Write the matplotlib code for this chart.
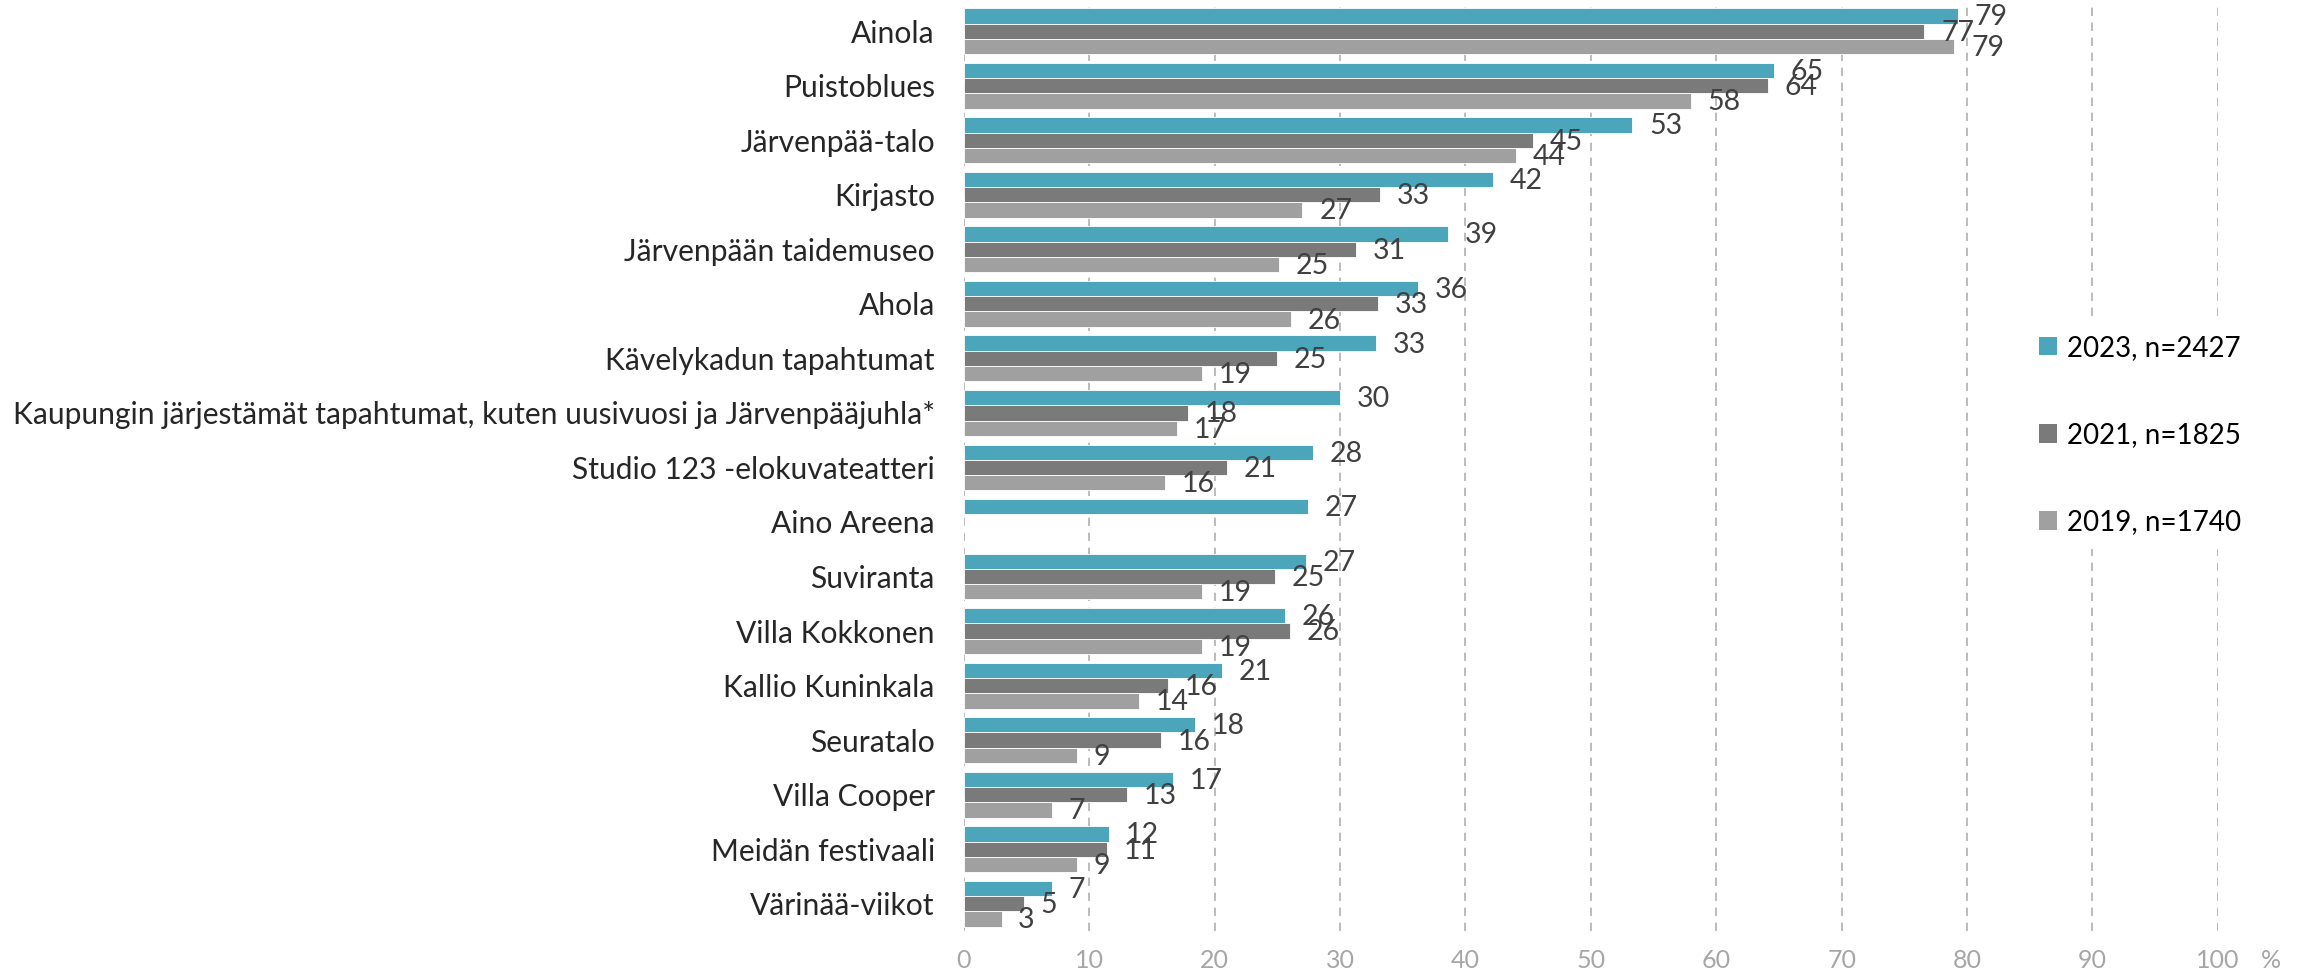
#!/usr/bin/python3
# -*- coding: utf-8 -*-
"""
    Grouped horizontal bar chart: visited places / events in Järvenpää,
    survey years 2023, 2021 and 2019 (share of respondents, %).
"""

import numpy as np
from matplotlib import pyplot as plt
from matplotlib import font_manager


# Categories from top to bottom
categories = [
    "Ainola",
    "Puistoblues",
    "Järvenpää-talo",
    "Kirjasto",
    "Järvenpään taidemuseo",
    "Ahola",
    "Kävelykadun tapahtumat",
    "Kaupungin järjestämät tapahtumat, kuten uusivuosi ja Järvenpääjuhla*",
    "Studio 123 -elokuvateatteri",
    "Aino Areena",
    "Suviranta",
    "Villa Kokkonen",
    "Kallio Kuninkala",
    "Seuratalo",
    "Villa Cooper",
    "Meidän festivaali",
    "Värinää-viikot",
]

# Values (%), nan = not asked that year
values_2023 = [79.3, 64.6, 53.3, 42.2, 38.6, 36.2, 32.9, 30.0, 27.8, 27.4,
               27.3, 25.6, 20.6, 18.4, 16.7, 11.6, 7.0]
values_2021 = [76.6, 64.1, 45.4, 33.2, 31.3, 33.0, 25.0, 17.9, 21.0, np.nan,
               24.8, 26.0, 16.3, 15.7, 13.0, 11.4, 4.8]
values_2019 = [79.0, 58.0, 44.0, 27.0, 25.1, 26.1, 19.0, 17.0, 16.0, np.nan,
               19.0, 19.0, 14.0, 9.0, 7.0, 9.0, 3.0]

series_labels = ["2023, n=2427", "2021, n=1825", "2019, n=1740"]
series_colors = ["#4BA6BC", "#7A7A7A", "#A0A0A0"]

x_ticks = list(range(0, 101, 10))


def pick_font():
    # Narrow humanist font is closest to the original Calibri look
    names = {f.name for f in font_manager.fontManager.ttflist}
    for name in ["Liberation Sans Narrow", "Lato", "Open Sans"]:
        if name in names:
            return name
    return "DejaVu Sans"


def main():
    plt.rcParams["font.family"] = [pick_font(), "DejaVu Sans"]

    fig = plt.figure(figsize=(23.15, 9.8), dpi=100)
    ax = fig.add_axes([0.4164, 0.05, 0.958 - 0.4164, 0.946])

    y = np.arange(len(categories))
    bar_h = 0.28
    all_series = [values_2023, values_2021, values_2019]

    for i, (vals, lab, col) in enumerate(zip(all_series, series_labels, series_colors)):
        offset = (i - 1) * bar_h
        vals = np.array(vals, dtype=float)
        ax.barh(y + offset, vals, height=bar_h, color=col, label=lab,
                edgecolor="white", linewidth=0.6, zorder=3)
        # Data labels at outside end
        for yy, v in zip(y + offset, vals):
            if np.isnan(v):
                continue
            ax.annotate("%.0f" % v, xy=(v, yy), xytext=(12, -1),
                        textcoords="offset points", ha="left", va="center",
                        fontsize=20.5, color="#404040", zorder=4)

    # Axes formatting
    ax.set_xlim(0, 100)
    ax.set_ylim(len(categories) - 0.5, -0.5)
    ax.set_xticks(x_ticks)
    ax.set_yticks(y)
    ax.set_yticklabels(categories, fontsize=21.6, color="#262626")
    ax.tick_params(axis="x", length=0, pad=13, labelsize=18, labelcolor="#A6A6A6")
    ax.tick_params(axis="y", length=0, pad=21)

    for spine in ax.spines.values():
        spine.set_visible(False)

    ax.grid(axis="x", color="#B0B0B0", linestyle=(0, (5, 4)), linewidth=1.2, zorder=0)
    ax.set_axisbelow(True)

    fig.text(2271 / 2315, 1 - 960 / 980, "%", ha="center", va="center",
             fontsize=18, color="#A6A6A6")

    leg = ax.legend(loc="center left", bbox_to_anchor=(2025 / 2315, 1 - 435 / 980),
                    bbox_transform=fig.transFigure, frameon=True, fontsize=20,
                    handlelength=0.65, handleheight=0.65, handletextpad=0.35,
                    labelspacing=2.2, borderpad=0.5, borderaxespad=0)
    leg.get_frame().set_facecolor("white")
    leg.get_frame().set_edgecolor("none")
    leg.get_frame().set_alpha(1)
    for h in leg.legend_handles:
        h.set_edgecolor("none")

    plt.savefig("out.png", dpi=100)
    plt.close()


if __name__ == "__main__":
    main()
